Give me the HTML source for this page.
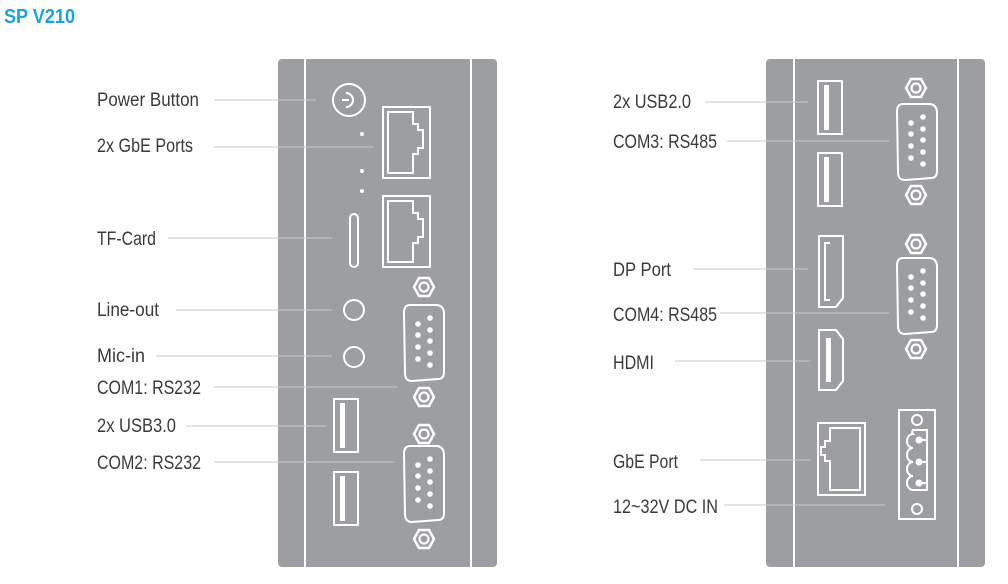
<!DOCTYPE html>
<html><head><meta charset="utf-8"><style>
html,body{margin:0;padding:0;background:#fff;}
svg{display:block;}
text{font-family:"Liberation Sans",sans-serif;fill:#3a3a3a;font-size:19.5px;}
</style></head><body>
<svg width="1008" height="584" viewBox="0 0 1008 584" xmlns="http://www.w3.org/2000/svg">
<defs>
<g id="nut"><polygon points="-10,0 -5,-9 5,-9 10,0 5,9 -5,9" fill="none" stroke="#fff" stroke-width="2.5"/><circle r="4.5" fill="none" stroke="#fff" stroke-width="2.2"/></g>
<g id="db9"><path d="M-14,-38 Q-20,-38 -20,-30 L-19,30 Q-19,38 -12,38 L14,36 Q20,36 20,29 L20,-29 Q20,-37 13,-38 Z" fill="none" stroke="#fff" stroke-width="2"/>
<g fill="#fff"><circle cx="-6" cy="-19" r="2.8"/><circle cx="-6" cy="-8" r="2.8"/><circle cx="-6" cy="4" r="2.8"/><circle cx="-6" cy="16" r="2.8"/>
<circle cx="6" cy="-25" r="2.8"/><circle cx="6" cy="-13" r="2.8"/><circle cx="6" cy="-2" r="2.8"/><circle cx="6" cy="10" r="2.8"/><circle cx="6" cy="22" r="2.8"/></g></g>
<g id="usb"><rect x="1" y="1" width="24" height="53" fill="none" stroke="#fff" stroke-width="2"/><rect x="7" y="5" width="5" height="45" fill="#fff"/></g>
</defs>
<text x="4" y="23" style="fill:#1aa3dd;font-weight:bold;font-size:20px" textLength="71" lengthAdjust="spacingAndGlyphs">SP V210</text>

<!-- left panel -->
<rect x="278" y="59" width="219" height="508" rx="4" fill="#9d9ea2"/>
<line x1="305" y1="59" x2="305" y2="567" stroke="#fff" stroke-width="2"/>
<line x1="471" y1="59" x2="471" y2="567" stroke="#fff" stroke-width="2"/>
<g stroke="#fff" stroke-width="2" fill="none">
<circle cx="349" cy="100" r="16"/>
<path d="M342,100 h7 M346,93 a7,7 0 1 1 0,14"/>
<rect x="383" y="107" width="47" height="71"/>
<path d="M388,112 h25 v12 h5 v6 h5 v18 h-5 v6 h-5 v19 h-25 z"/>
<rect x="383" y="196" width="47" height="71"/>
<path d="M388,201 h25 v12 h5 v6 h5 v18 h-5 v6 h-5 v19 h-25 z"/>
<rect x="350" y="214" width="8" height="53" rx="4"/>
<circle cx="354" cy="310" r="10"/>
<circle cx="354" cy="357" r="10"/>
</g>
<g fill="#fff"><circle cx="362" cy="134" r="2"/><circle cx="362" cy="171" r="2"/><circle cx="362" cy="191" r="2"/></g>
<use href="#nut" x="424" y="287"/>
<use href="#db9" x="424" y="343"/>
<use href="#nut" x="424" y="397"/>
<use href="#nut" x="424" y="434"/>
<use href="#db9" x="424" y="484"/>
<use href="#nut" x="424" y="539"/>
<use href="#usb" x="333" y="398"/>
<use href="#usb" x="333" y="471"/>

<!-- left labels -->
<g stroke="#c8c8c8" stroke-width="1">
<line x1="214" y1="100" x2="316" y2="100"/>
<line x1="214" y1="147" x2="374" y2="147"/>
<line x1="168" y1="238" x2="332" y2="238"/>
<line x1="176" y1="310" x2="332" y2="310"/>
<line x1="156" y1="356" x2="332" y2="356"/>
<line x1="214" y1="387" x2="398" y2="387"/>
<line x1="186" y1="426" x2="326" y2="426"/>
<line x1="214" y1="462" x2="395" y2="462"/>
</g>
<text x="97" y="106" textLength="102" lengthAdjust="spacingAndGlyphs">Power Button</text>
<text x="97" y="152" textLength="96" lengthAdjust="spacingAndGlyphs">2x GbE Ports</text>
<text x="97" y="245" textLength="59" lengthAdjust="spacingAndGlyphs">TF-Card</text>
<text x="97" y="316" textLength="62" lengthAdjust="spacingAndGlyphs">Line-out</text>
<text x="97" y="362" textLength="48" lengthAdjust="spacingAndGlyphs">Mic-in</text>
<text x="97" y="394" textLength="104" lengthAdjust="spacingAndGlyphs">COM1: RS232</text>
<text x="97" y="432" textLength="79" lengthAdjust="spacingAndGlyphs">2x USB3.0</text>
<text x="97" y="469" textLength="104" lengthAdjust="spacingAndGlyphs">COM2: RS232</text>

<!-- right panel -->
<rect x="766" y="59" width="219" height="508" rx="4" fill="#9d9ea2"/>
<line x1="794" y1="59" x2="794" y2="567" stroke="#fff" stroke-width="2"/>
<line x1="958" y1="59" x2="958" y2="567" stroke="#fff" stroke-width="2"/>
<use href="#usb" x="817" y="80"/>
<use href="#usb" x="817" y="152"/>
<use href="#nut" x="916" y="88"/>
<use href="#db9" x="917" y="142"/>
<use href="#nut" x="916" y="195"/>
<use href="#nut" x="916" y="244"/>
<use href="#db9" x="917" y="296"/>
<use href="#nut" x="916" y="349"/>
<g stroke="#fff" stroke-width="2" fill="none">
<path d="M819,236 h24 v62 l-7,9 h-17 z"/>
<path d="M830,243 h-5 v57 h5"/>
<path d="M819,330 h17 l7,9 v42 l-7,9 h-17 z"/>
<rect x="818" y="423" width="47" height="72"/>
<path d="M860,428 h-30 v13 h-5 v6 h-4 v8 h4 v6 h5 v29 h30 z"/>
<rect x="899" y="410" width="36" height="109"/>
<circle cx="917" cy="420" r="5"/>
<circle cx="917" cy="509" r="5"/>
<path d="M927,430 v60 h-14 a6,7 0 0 1 0,-14 a6,7 0 0 1 0,-14 a6,7 0 0 1 0,-14 a6,7 0 0 1 0,-14 a6,4 0 0 1 0,-4 z"/>
</g>
<rect x="826" y="338" width="5" height="44" fill="#fff"/>
<g fill="#fff" stroke="#fff" stroke-width="2"><circle cx="919" cy="440" r="2.5"/><circle cx="919" cy="462" r="2.5"/><circle cx="919" cy="483" r="2.5"/>
<line x1="920" y1="440" x2="927" y2="440"/><line x1="920" y1="462" x2="927" y2="462"/><line x1="920" y1="483" x2="927" y2="483"/></g>

<g stroke="#c8c8c8" stroke-width="1">
<line x1="705" y1="102" x2="808" y2="102"/>
<line x1="727" y1="141" x2="889" y2="141"/>
<line x1="693" y1="269" x2="808" y2="269"/>
<line x1="720" y1="313" x2="889" y2="313"/>
<line x1="675" y1="361" x2="810" y2="361"/>
<line x1="700" y1="460" x2="810" y2="460"/>
<line x1="724" y1="505" x2="885" y2="505"/>
</g>
<text x="613" y="108" textLength="78" lengthAdjust="spacingAndGlyphs">2x USB2.0</text>
<text x="613" y="148" textLength="104" lengthAdjust="spacingAndGlyphs">COM3: RS485</text>
<text x="613" y="276" textLength="58" lengthAdjust="spacingAndGlyphs">DP Port</text>
<text x="613" y="321" textLength="104" lengthAdjust="spacingAndGlyphs">COM4: RS485</text>
<text x="613" y="369" textLength="41" lengthAdjust="spacingAndGlyphs">HDMI</text>
<text x="613" y="468" textLength="65" lengthAdjust="spacingAndGlyphs">GbE Port</text>
<text x="613" y="513" textLength="105" lengthAdjust="spacingAndGlyphs">12~32V DC IN</text>
</svg>
</body></html>
